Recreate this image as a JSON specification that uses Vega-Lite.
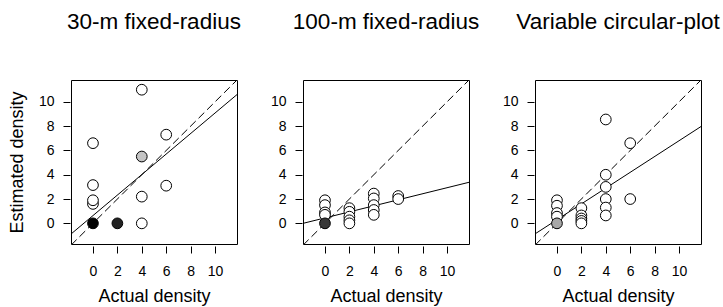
{
  "$schema": "https://vega.github.io/schema/vega-lite/v6.json",
  "padding": {"left": 7, "top": 10, "right": 0, "bottom": 0},
  "background": "white",
  "spacing": 66,
  "bounds": "flush",
  "datasets": {
    "pts": [
      {"panel": "A", "actual": 0, "estimated": 0, "overlap": 6},
      {"panel": "A", "actual": 0, "estimated": 1.6, "overlap": 1},
      {"panel": "A", "actual": 0, "estimated": 1.9, "overlap": 1},
      {"panel": "A", "actual": 0, "estimated": 3.15, "overlap": 1},
      {"panel": "A", "actual": 0, "estimated": 6.6, "overlap": 1},
      {"panel": "A", "actual": 2, "estimated": 0, "overlap": 5},
      {"panel": "A", "actual": 4, "estimated": 0, "overlap": 1},
      {"panel": "A", "actual": 4, "estimated": 2.2, "overlap": 1},
      {"panel": "A", "actual": 4, "estimated": 5.5, "overlap": 2},
      {"panel": "A", "actual": 4, "estimated": 11.0, "overlap": 1},
      {"panel": "A", "actual": 6, "estimated": 3.1, "overlap": 1},
      {"panel": "A", "actual": 6, "estimated": 7.3, "overlap": 1},
      {"panel": "B", "actual": 0, "estimated": 1.9, "overlap": 1},
      {"panel": "B", "actual": 0, "estimated": 1.5, "overlap": 1},
      {"panel": "B", "actual": 0, "estimated": 0.9, "overlap": 1},
      {"panel": "B", "actual": 0, "estimated": 0.7, "overlap": 1},
      {"panel": "B", "actual": 0, "estimated": 0, "overlap": 4},
      {"panel": "B", "actual": 2, "estimated": 1.25, "overlap": 1},
      {"panel": "B", "actual": 2, "estimated": 0.95, "overlap": 1},
      {"panel": "B", "actual": 2, "estimated": 0.55, "overlap": 1},
      {"panel": "B", "actual": 2, "estimated": 0.25, "overlap": 1},
      {"panel": "B", "actual": 2, "estimated": 0, "overlap": 1},
      {"panel": "B", "actual": 4, "estimated": 2.45, "overlap": 1},
      {"panel": "B", "actual": 4, "estimated": 2.05, "overlap": 1},
      {"panel": "B", "actual": 4, "estimated": 1.5, "overlap": 1},
      {"panel": "B", "actual": 4, "estimated": 1.1, "overlap": 1},
      {"panel": "B", "actual": 4, "estimated": 0.7, "overlap": 1},
      {"panel": "B", "actual": 6, "estimated": 2.25, "overlap": 1},
      {"panel": "B", "actual": 6, "estimated": 2.0, "overlap": 1},
      {"panel": "C", "actual": 0, "estimated": 1.9, "overlap": 1},
      {"panel": "C", "actual": 0, "estimated": 1.45, "overlap": 1},
      {"panel": "C", "actual": 0, "estimated": 0.85, "overlap": 1},
      {"panel": "C", "actual": 0, "estimated": 0.55, "overlap": 1},
      {"panel": "C", "actual": 0, "estimated": 0, "overlap": 3},
      {"panel": "C", "actual": 2, "estimated": 1.25, "overlap": 1},
      {"panel": "C", "actual": 2, "estimated": 0.65, "overlap": 1},
      {"panel": "C", "actual": 2, "estimated": 0.4, "overlap": 1},
      {"panel": "C", "actual": 2, "estimated": 0.2, "overlap": 1},
      {"panel": "C", "actual": 2, "estimated": 0, "overlap": 1},
      {"panel": "C", "actual": 4, "estimated": 8.55, "overlap": 1},
      {"panel": "C", "actual": 4, "estimated": 4.0, "overlap": 1},
      {"panel": "C", "actual": 4, "estimated": 3.0, "overlap": 1},
      {"panel": "C", "actual": 4, "estimated": 2.0, "overlap": 1},
      {"panel": "C", "actual": 4, "estimated": 1.3, "overlap": 1},
      {"panel": "C", "actual": 4, "estimated": 0.65, "overlap": 1},
      {"panel": "C", "actual": 6, "estimated": 6.6, "overlap": 1},
      {"panel": "C", "actual": 6, "estimated": 2.0, "overlap": 1}
    ],
    "lines": [
      {"panel": "A", "kind": "identity", "actual": -1.8, "estimated": -1.8},
      {"panel": "A", "kind": "identity", "actual": 11.8, "estimated": 11.8},
      {"panel": "A", "kind": "fit", "actual": -1.8, "estimated": -0.88},
      {"panel": "A", "kind": "fit", "actual": 11.8, "estimated": 10.6},
      {"panel": "B", "kind": "identity", "actual": -1.8, "estimated": -1.8},
      {"panel": "B", "kind": "identity", "actual": 11.8, "estimated": 11.8},
      {"panel": "B", "kind": "fit", "actual": -1.8, "estimated": 0.0},
      {"panel": "B", "kind": "fit", "actual": 11.8, "estimated": 3.38},
      {"panel": "C", "kind": "identity", "actual": -1.8, "estimated": -1.8},
      {"panel": "C", "kind": "identity", "actual": 11.8, "estimated": 11.8},
      {"panel": "C", "kind": "fit", "actual": -1.8, "estimated": -0.87},
      {"panel": "C", "kind": "fit", "actual": 11.8, "estimated": 7.97}
    ]
  },
  "config": {
    "font": "Liberation Sans",
    "view": {"stroke": "black", "strokeWidth": 1},
    "axis": {
      "grid": false, "domain": false, "tickColor": "black", "tickSize": 7,
      "labelColor": "black", "labelFontSize": 14, "labelFont": "Liberation Sans",
      "titleFont": "Liberation Sans", "titleFontSize": 18, "titleFontWeight": "normal", "titleColor": "black",
      "values": [0, 2, 4, 6, 8, 10]
    },
    "axisX": {"offset": 2, "labelPadding": 11, "titlePadding": 9, "labelAngle": 0},
    "axisY": {"offset": 1, "labelPadding": 9, "titlePadding": 12},
    "title": {"fontSize": 22.5, "fontWeight": "normal", "color": "black", "font": "Liberation Sans", "offset": 47, "frame": "group"}
  },
  "hconcat": [
    {
      "width": 166, "height": 164,
      "title": "30-m fixed-radius",
      "encoding": {
        "x": {"field": "actual", "type": "quantitative", "scale": {"domain": [-1.8, 11.8], "nice": false, "zero": false}, "axis": {"title": "Actual density"}},
        "y": {"field": "estimated", "type": "quantitative", "scale": {"domain": [-1.7, 11.8], "nice": false, "zero": false}, "axis": {"title": "Estimated density"}}
      },
      "layer": [
        {"data": {"name": "lines"}, "transform": [{"filter": "datum.panel == 'A' && datum.kind == 'identity'"}],
         "mark": {"type": "line", "color": "black", "strokeWidth": 1, "strokeDash": [8, 4], "clip": true}},
        {"data": {"name": "lines"}, "transform": [{"filter": "datum.panel == 'A' && datum.kind == 'fit'"}],
         "mark": {"type": "line", "color": "black", "strokeWidth": 1, "clip": true}},
        {"data": {"name": "pts"}, "transform": [{"filter": "datum.panel == 'A'"}],
         "mark": {"type": "point", "shape": "circle", "filled": true, "stroke": "black", "strokeWidth": 1, "size": 115, "opacity": 1},
         "encoding": {"fill": {"field": "overlap", "type": "ordinal", "scale": {"domain": [1, 2, 3, 4, 5, 6], "range": ["#ffffff", "#c4c4c4", "#a8a8a8", "#383838", "#222222", "#000000"]}, "legend": null}}}
      ]
    },
    {
      "width": 166, "height": 164,
      "title": "100-m fixed-radius",
      "encoding": {
        "x": {"field": "actual", "type": "quantitative", "scale": {"domain": [-1.8, 11.8], "nice": false, "zero": false}, "axis": {"title": "Actual density"}},
        "y": {"field": "estimated", "type": "quantitative", "scale": {"domain": [-1.7, 11.8], "nice": false, "zero": false}, "axis": {"title": null}}
      },
      "layer": [
        {"data": {"name": "lines"}, "transform": [{"filter": "datum.panel == 'B' && datum.kind == 'identity'"}],
         "mark": {"type": "line", "color": "black", "strokeWidth": 1, "strokeDash": [8, 4], "clip": true}},
        {"data": {"name": "lines"}, "transform": [{"filter": "datum.panel == 'B' && datum.kind == 'fit'"}],
         "mark": {"type": "line", "color": "black", "strokeWidth": 1, "clip": true}},
        {"data": {"name": "pts"}, "transform": [{"filter": "datum.panel == 'B'"}],
         "mark": {"type": "point", "shape": "circle", "filled": true, "stroke": "black", "strokeWidth": 1, "size": 115, "opacity": 1},
         "encoding": {"fill": {"field": "overlap", "type": "ordinal", "scale": {"domain": [1, 2, 3, 4, 5, 6], "range": ["#ffffff", "#c4c4c4", "#a8a8a8", "#383838", "#222222", "#000000"]}, "legend": null}}}
      ]
    },
    {
      "width": 166, "height": 164,
      "title": "Variable circular-plot",
      "encoding": {
        "x": {"field": "actual", "type": "quantitative", "scale": {"domain": [-1.8, 11.8], "nice": false, "zero": false}, "axis": {"title": "Actual density"}},
        "y": {"field": "estimated", "type": "quantitative", "scale": {"domain": [-1.7, 11.8], "nice": false, "zero": false}, "axis": {"title": null}}
      },
      "layer": [
        {"data": {"name": "lines"}, "transform": [{"filter": "datum.panel == 'C' && datum.kind == 'identity'"}],
         "mark": {"type": "line", "color": "black", "strokeWidth": 1, "strokeDash": [8, 4], "clip": true}},
        {"data": {"name": "lines"}, "transform": [{"filter": "datum.panel == 'C' && datum.kind == 'fit'"}],
         "mark": {"type": "line", "color": "black", "strokeWidth": 1, "clip": true}},
        {"data": {"name": "pts"}, "transform": [{"filter": "datum.panel == 'C'"}],
         "mark": {"type": "point", "shape": "circle", "filled": true, "stroke": "black", "strokeWidth": 1, "size": 115, "opacity": 1},
         "encoding": {"fill": {"field": "overlap", "type": "ordinal", "scale": {"domain": [1, 2, 3, 4, 5, 6], "range": ["#ffffff", "#c4c4c4", "#a8a8a8", "#383838", "#222222", "#000000"]}, "legend": null}}}
      ]
    }
  ]
}
